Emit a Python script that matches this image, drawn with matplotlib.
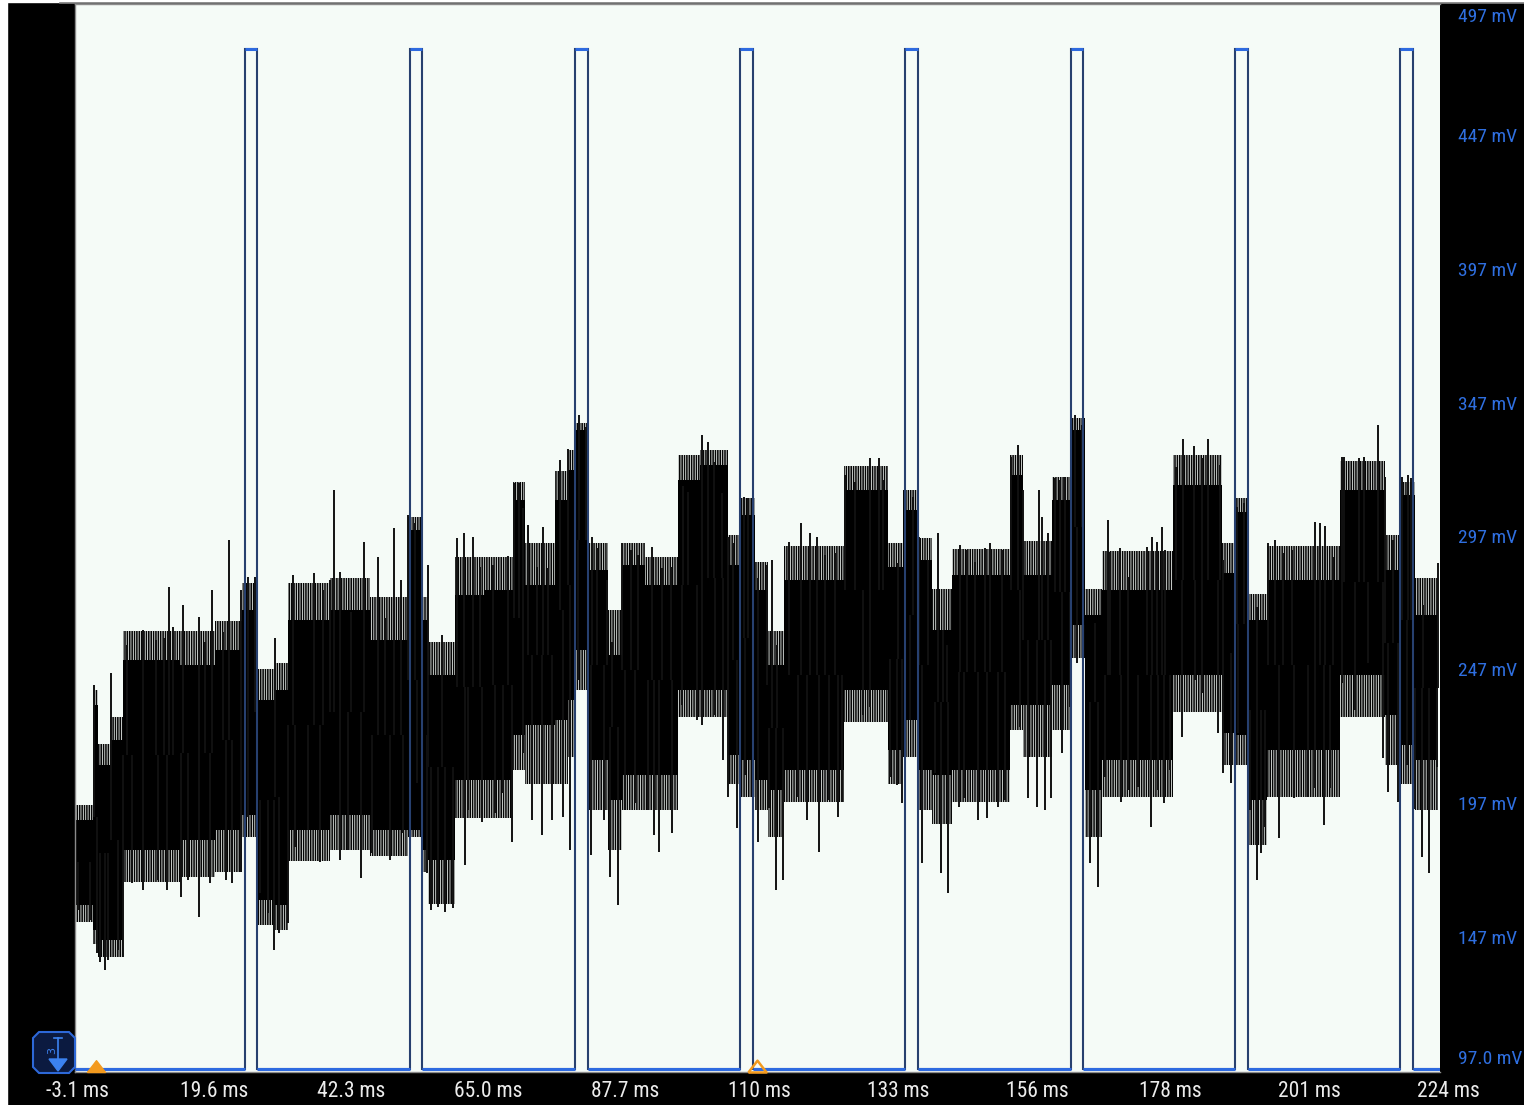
import numpy as np
import matplotlib
matplotlib.use('Agg')
import matplotlib.pyplot as plt
from matplotlib.patches import Polygon, Rectangle
from matplotlib.markers import MarkerStyle
from matplotlib.path import Path
import matplotlib.transforms as mtransforms

# ---------------- data (time in ms, voltage in mV) ----------------
xtick_vals = [-3.1, 19.6, 42.3, 65.0, 87.7, 110, 133, 156, 178, 201, 224]
xtick_labels = ['-3.1 ms', '19.6 ms', '42.3 ms', '65.0 ms', '87.7 ms', '110 ms',
                '133 ms', '156 ms', '178 ms', '201 ms', '224 ms']
ytick_vals = [497, 447, 397, 347, 297, 247, 197, 147, 97]
ytick_labels = ['497 mV', '447 mV', '397 mV', '347 mV', '297 mV', '247 mV',
                '197 mV', '147 mV', '97.0 mV']

# blue channel: square pulses
pulse_rise = [24.73, 52.06, 79.40, 106.73, 134.06, 161.56, 188.72, 216.06]
pulse_fall = [26.72, 54.05, 81.55, 108.88, 136.21, 163.55, 190.88, 218.21]
pulse_high = 480.0
pulse_low = 98.0
trace_start = -3.43
trace_end = 222.35

# black channel: dense noisy band
# segment start, solid band top / bottom, dense-fringe top / bottom
core_t = [-3.43, -0.45, 0.38, 2.37, 4.52, 13.96, 19.76, 24.23, 26.88, 29.70,
          31.85, 38.81, 45.44, 51.73, 54.21, 55.04, 59.52, 64.49, 69.12, 71.11,
          76.08, 78.24, 79.40, 81.55, 84.86, 87.18, 90.99, 96.45, 100.10, 104.74,
          106.73, 109.21, 111.36, 113.98, 123.96, 131.24, 133.73, 136.21, 138.53, 141.84,
          151.45, 153.61, 158.41, 161.56, 163.88, 166.69, 178.45, 186.57, 188.72, 190.88,
          194.03, 206.11, 213.56, 216.06, 218.54]
core_hi = [191.4, 234.5, 212.0, 221.3, 251.3, 249.4, 255.1, 270.0, 236.3, 240.1,
           266.3, 270.0, 258.8, 300.0, 266.3, 245.7, 275.7, 277.5, 311.2, 279.4,
           311.2, 322.5, 337.5, 285.0, 253.2, 286.9, 279.4, 318.7, 324.3, 286.9,
           305.6, 277.5, 249.4, 281.3, 315.0, 286.1, 307.5, 288.8, 262.5, 283.2,
           320.6, 283.2, 311.2, 337.5, 268.2, 277.5, 316.9, 283.9, 306.7, 266.3,
           281.3, 315.0, 285.0, 313.1, 268.2]
core_lo = [159.6, 150.2, 146.4, 146.4, 180.1, 183.9, 187.6, 193.3, 161.4, 159.6,
           187.6, 193.3, 187.6, 187.6, 180.1, 176.4, 206.4, 206.4, 223.2, 227.0,
           228.8, 236.3, 255.1, 213.8, 198.9, 208.3, 208.3, 240.1, 240.1, 215.7,
           213.8, 206.4, 202.6, 210.1, 240.1, 217.6, 228.8, 210.1, 208.3, 210.1,
           234.5, 234.5, 242.0, 264.4, 202.6, 213.8, 245.7, 224.0, 223.2, 198.9,
           217.6, 245.7, 230.7, 219.5, 213.8]
fringe_hi = [197.0, 240.0, 220.0, 230.0, 262.0, 262.0, 266.0, 280.0, 248.0, 250.0,
             280.0, 282.0, 275.0, 305.0, 275.0, 258.0, 290.0, 290.0, 318.0, 295.0,
             322.0, 330.0, 340.0, 295.0, 270.0, 295.0, 290.0, 328.0, 330.0, 298.0,
             312.0, 288.0, 262.0, 294.0, 324.0, 295.0, 315.0, 297.0, 278.0, 293.0,
             328.0, 296.0, 320.0, 342.0, 278.0, 292.0, 328.0, 295.0, 312.0, 276.0,
             294.0, 326.0, 298.0, 318.0, 282.0]
fringe_lo = [153.0, 145.0, 140.0, 140.0, 168.0, 170.0, 172.0, 185.0, 152.0, 150.0,
             176.0, 180.0, 178.0, 185.0, 172.0, 160.0, 192.0, 192.0, 210.0, 205.0,
             205.0, 215.0, 240.0, 195.0, 180.0, 195.0, 195.0, 230.0, 230.0, 205.0,
             200.0, 195.0, 185.0, 198.0, 228.0, 205.0, 215.0, 195.0, 190.0, 198.0,
             225.0, 215.0, 225.0, 252.0, 185.0, 200.0, 232.0, 212.0, 212.0, 182.0,
             200.0, 230.0, 212.0, 205.0, 195.0]

# upward spike tips
up_t = [-0.28, 2.53, 5.18, 7.83, 9.99, 11.31, 12.14, 12.80, 14.46, 17.11,
        18.11, 19.26, 21.09, 22.08, 24.07, 25.23, 26.39, 29.70, 32.68, 36.16,
        37.65, 38.81, 39.47, 40.47, 42.29, 44.45, 46.76, 47.92, 49.41, 50.57,
        51.73, 52.89, 55.04, 57.36, 59.85, 61.01, 62.50, 63.66, 65.81, 68.30,
        69.29, 70.12, 70.78, 71.61, 73.10, 74.09, 74.92, 76.91, 78.24, 80.06,
        81.22, 82.21, 83.04, 84.70, 85.52, 87.18, 88.67, 89.83, 92.15, 93.80,
        95.30, 97.28, 98.11, 100.43, 101.43, 102.42, 103.75, 104.74, 105.57, 107.39,
        108.05, 109.71, 111.20, 112.03, 112.86, 114.84, 116.83, 118.32, 119.48, 120.81,
        122.46, 124.12, 125.78, 128.26, 129.75, 130.41, 132.90, 134.06, 135.38, 136.37,
        137.87, 139.52, 140.35, 141.01, 143.17, 144.32, 145.65, 147.31, 148.14, 150.13,
        151.62, 152.78, 153.61, 156.26, 156.75, 157.75, 158.91, 159.73, 160.56, 162.22,
        163.38, 165.53, 167.69, 168.02, 169.67, 171.00, 174.15, 174.97, 175.80, 176.63,
        177.12, 178.95, 180.11, 181.93, 183.26, 184.25, 186.24, 186.74, 189.05, 190.21,
        192.37, 194.19, 195.36, 196.68, 198.17, 201.98, 202.80, 203.63, 204.95, 206.44,
        206.78, 209.26, 210.09, 212.41, 213.56, 214.89, 216.38, 217.37, 217.87, 219.86,
        222.35]
up_v = [242.0, 246.5, 257.0, 262.6, 258.8, 259.6, 278.7, 263.7, 272.0, 267.4,
        258.1, 277.5, 261.8, 296.3, 277.5, 282.4, 282.4, 259.6, 283.1, 283.9,
        277.5, 281.3, 315.0, 284.3, 269.3, 295.5, 289.9, 267.0, 300.7, 281.3,
        305.6, 302.6, 286.9, 260.7, 297.0, 298.9, 297.4, 286.1, 286.9, 290.3,
        317.6, 317.6, 308.2, 301.9, 286.1, 301.1, 285.8, 326.2, 330.3, 343.1,
        338.6, 297.4, 293.3, 281.3, 258.1, 295.1, 292.5, 290.6, 293.6, 285.8,
        286.1, 316.5, 314.2, 335.6, 333.0, 325.5, 313.9, 297.4, 295.1, 312.4,
        312.0, 282.0, 286.9, 288.8, 257.0, 295.5, 302.6, 298.9, 297.4, 290.6,
        291.4, 320.6, 318.0, 327.0, 327.0, 318.7, 287.6, 316.9, 312.4, 297.4,
        288.8, 298.9, 262.6, 257.0, 294.4, 292.5, 288.0, 293.3, 295.1, 292.5,
        327.3, 331.8, 315.0, 315.0, 304.9, 298.9, 319.5, 318.7, 319.9, 343.1,
        339.3, 265.2, 303.7, 291.8, 293.3, 282.4, 293.6, 297.4, 295.5, 301.1,
        292.5, 323.6, 334.1, 331.5, 327.0, 334.1, 324.3, 288.8, 308.6, 310.1,
        271.2, 295.1, 296.3, 291.4, 292.5, 303.0, 302.6, 301.5, 289.9, 327.3,
        327.3, 327.0, 327.3, 339.3, 319.9, 296.3, 319.9, 320.6, 319.5, 271.9,
        287.6]

# downward spike tips
dn_t = [-2.93, -0.95, 0.21, 0.71, 1.54, 2.04, 3.69, 4.52, 6.01, 7.83,
        10.32, 11.81, 14.13, 15.29, 17.11, 18.93, 21.58, 22.58, 24.07, 25.23,
        27.22, 28.54, 29.53, 30.36, 31.85, 33.01, 35.17, 37.15, 40.47, 41.79,
        43.95, 45.77, 48.75, 50.90, 52.06, 53.22, 54.05, 54.88, 55.54, 56.70,
        57.86, 59.19, 61.17, 61.67, 63.99, 66.14, 67.47, 68.96, 70.78, 72.27,
        73.93, 75.58, 77.41, 78.57, 79.89, 82.04, 84.20, 85.19, 86.52, 87.68,
        89.33, 91.49, 92.48, 93.31, 95.46, 97.12, 99.60, 100.43, 102.59, 103.91,
        104.74, 106.23, 107.55, 109.71, 111.53, 112.69, 113.85, 116.34, 117.83, 119.81,
        121.47, 122.96, 123.63, 127.10, 128.26, 131.57, 132.73, 133.57, 134.89, 136.87,
        139.03, 140.02, 141.18, 143.00, 143.83, 146.15, 147.64, 149.47, 150.63, 153.11,
        154.43, 155.92, 157.25, 158.24, 160.07, 161.39, 162.55, 164.70, 166.03, 167.19,
        169.84, 171.00, 172.65, 174.81, 175.97, 176.96, 177.95, 179.94, 182.09, 183.26,
        185.91, 186.74, 188.07, 189.22, 191.21, 192.37, 193.03, 193.70, 196.02, 198.51,
        200.83, 202.00, 203.49, 204.46, 206.44, 208.60, 210.75, 213.23, 214.06, 215.72,
        217.21, 218.54, 219.70, 220.86, 222.19]
dn_v = [157.7, 153.9, 141.6, 138.2, 135.2, 138.9, 142.7, 140.1, 167.8, 165.2,
        168.9, 165.2, 162.6, 168.9, 155.1, 167.8, 168.9, 167.8, 171.9, 192.5,
        164.1, 156.6, 142.7, 149.1, 152.8, 181.3, 187.6, 175.7, 176.4, 180.1,
        169.7, 179.0, 176.4, 186.5, 186.5, 205.3, 183.9, 171.5, 157.7, 158.8,
        156.9, 158.4, 174.5, 195.1, 190.6, 194.0, 201.5, 183.1, 216.5, 191.4,
        185.8, 191.4, 192.5, 180.1, 243.8, 178.3, 191.4, 170.0, 159.6, 195.1,
        197.8, 195.1, 185.8, 179.4, 186.5, 234.5, 228.8, 227.0, 230.7, 213.8,
        200.0, 188.4, 208.3, 183.1, 195.9, 165.2, 168.9, 200.0, 191.4, 179.4,
        198.9, 192.5, 198.1, 230.7, 233.7, 207.5, 204.5, 197.8, 228.8, 175.3,
        209.0, 171.5, 164.1, 196.3, 199.6, 191.4, 192.1, 196.3, 198.9, 226.2,
        199.6, 196.3, 195.1, 199.6, 216.5, 233.7, 250.2, 175.3, 166.3, 207.5,
        198.1, 202.6, 203.8, 188.8, 202.6, 197.8, 210.1, 222.5, 243.8, 239.0,
        224.0, 209.0, 205.3, 224.0, 195.1, 168.9, 179.0, 188.8, 184.6, 199.6,
        200.0, 203.4, 189.5, 203.4, 242.7, 232.6, 250.2, 214.6, 201.9, 198.1,
        212.0, 195.5, 177.5, 171.5, 211.2]

trigger_t = 0.0
center_t = 109.6

# ---------------- figure ----------------
plt.rcParams['hatch.linewidth'] = 1.15
W, H = 1524, 1105
fig = plt.figure(figsize=(W / 100, H / 100), dpi=100, facecolor='black')
ax = fig.add_axes([75 / W, 33 / H, 1365 / W, 1068 / H])
ax.set_facecolor('#f5fbf7')
ax.set_xlim(-3.43, 222.68)
ax.set_ylim(97, 497)
ax.set_xticks([])
ax.set_yticks([])
for s in ['top', 'left', 'bottom']:
    ax.spines[s].set_color('#8a8a8a')
    ax.spines[s].set_linewidth(1.0)
ax.spines['right'].set_visible(False)

# black band: solid core + dense fringe of thin spikes
ct = np.array(core_t + [trace_end])
def ext(a):
    return np.array(a + [a[-1]])
ax.fill_between(ct, ext(core_lo), ext(core_hi), step='post', color='black', lw=0, zorder=2)
ax.fill_between(ct, ext(core_hi), ext(fringe_hi), step='post', facecolor='none',
                edgecolor='#050505', hatch='|||||||', lw=0, zorder=2)
ax.fill_between(ct, ext(fringe_lo), ext(core_lo), step='post', facecolor='none',
                edgecolor='#050505', hatch='|||||||', lw=0, zorder=2)

def core_mid(t):
    idx = np.clip(np.searchsorted(core_t, t, side='right') - 1, 0, len(core_t) - 1)
    return (np.array(core_hi)[idx] + np.array(core_lo)[idx]) / 2

ut = np.array(up_t)
dt = np.array(dn_t)
ax.vlines(ut, core_mid(ut), up_v, color='#111111', lw=1.4, zorder=2)
ax.vlines(dt, dn_v, core_mid(dt), color='#111111', lw=1.4, zorder=2)

# blue pulses
px = [trace_start]
py = [pulse_low]
for r, f in zip(pulse_rise, pulse_fall):
    px += [r, r, f, f]
    py += [pulse_low, pulse_high, pulse_high, pulse_low]
px.append(trace_end + 0.3)
py.append(pulse_low)
ax.plot(px, py, color='#27406f', lw=1.5, zorder=4, solid_joinstyle='miter')
ax.hlines([pulse_high] * len(pulse_rise), pulse_rise, pulse_fall, color='#2e6ae0', lw=2.2, zorder=5)
lows_start = [trace_start] + pulse_fall
lows_end = pulse_rise + [trace_end + 0.3]
ax.hlines([pulse_low] * len(lows_start), lows_start, lows_end, color='#2e6ae0', lw=2.2, zorder=5)

# trigger / center markers
tri = MarkerStyle(Path([(-1, 0), (1, 0), (0, 1.3), (-1, 0)]))
ax.plot([trigger_t], [97], marker=tri, ms=17, color='#f39a1e', mec='#f39a1e', clip_on=False, zorder=6)
ax.plot([center_t], [97], marker=tri, ms=17, color='none', mfc='none', mec='#f39a1e', mew=1.8,
        clip_on=False, zorder=6)

# tick labels
fam = ['Liberation Sans Narrow', 'Roboto Condensed', 'DejaVu Sans Condensed', 'Roboto', 'DejaVu Sans']
for v, lab in zip(xtick_vals, xtick_labels):
    ax.text(v, -0.0178, lab, transform=mtransforms.blended_transform_factory(ax.transData, ax.transAxes),
            ha='center', va='center', color='#ececec', fontsize=15.5, family=fam, clip_on=False)
ylab_off = [-4.9, 0, 0, 0, 0, 0, 0, 0, 4.9]
for v, off, lab in zip(ytick_vals, ylab_off, ytick_labels):
    ax.text(1.0132, v + off, lab, transform=mtransforms.blended_transform_factory(ax.transAxes, ax.transData),
            ha='left', va='center', color='#2f6fe0', fontsize=14, family=fam, clip_on=False)

# decoration overlay in pixel coordinates
ov = fig.add_axes([0, 0, 1, 1], facecolor='none')
ov.set_xlim(0, W)
ov.set_ylim(H, 0)
ov.axis('off')
ov.add_patch(Rectangle((0, 0), 7, H, color='white', zorder=1))
ov.add_patch(Rectangle((0, 0), W, 1.5, color='white', zorder=1))
ov.plot([60, W], [2.5, 2.5], color='#7a7a7a', lw=1.2)
octo = [(39, 1032), (69, 1032), (75, 1038), (75, 1067), (69, 1073), (39, 1073), (33, 1067), (33, 1038)]
ov.add_patch(Polygon(octo, closed=True, facecolor='#0b1a40', edgecolor='#2d68d8', lw=1.5, zorder=3))
ov.plot([58, 58], [1038, 1060], color='#3b82f0', lw=1.2, zorder=4)
ov.plot([54, 62], [1038, 1038], color='#3b82f0', lw=1.2, zorder=4)
ov.add_patch(Polygon([(49, 1059), (67, 1059), (58, 1071)], closed=True, color='#3b82f0', zorder=4))
ov.text(52, 1050, '3', rotation=90, color='#3b82f0', fontsize=8, ha='center', va='center', zorder=4)

fig.savefig('out.png', dpi=100, facecolor='black')
